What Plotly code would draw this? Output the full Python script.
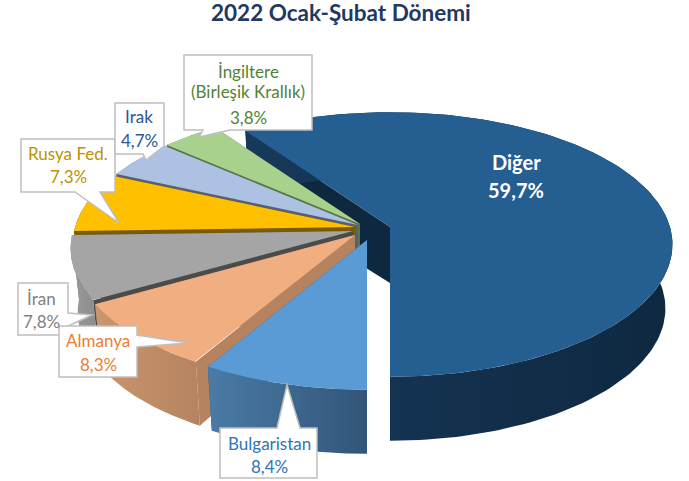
import numpy as np
import plotly.graph_objects as go

# ---- data ----
names = ["Diğer", "Bulgaristan", "Almanya", "İran", "Rusya Fed.", "Irak", "İngiltere (Birleşik Krallık)"]
shares = [59.7, 8.4, 8.3, 7.8, 7.3, 4.7, 3.8]
title_text = "2022 Ocak-Şubat Dönemi"

# ---- style ----
top_colors = ["#255e91", "#5b9bd5", "#f1ae80", "#a5a5a5", "#ffc000", "#adc2e2", "#a9d18e"]
wall_colors = ["#0e2840", "#2f5578", "#b5835f", "#4b4b4b", "#7a5c00", "#566070", "#5c7545"]
side_grad = [("#17395a", "#0e2840"), ("#4a7ba6", "#325578"), ("#c9966f", "#b5835f"),
             ("#9c9c9c", "#8a8a8a"), ("#7a5c00", "#7a5c00"), ("#566070", "#566070"), ("#5c7545", "#5c7545")]
text_colors = ["#ffffff", "#2e75b6", "#ed7d31", "#7f7f7f", "#bf9000", "#2f5597", "#548235"]
apex = [(390, 227), (367, 240), (355, 235), (353, 231), (355, 227), (358, 225), (360, 224)]
A, B, K, DEPTH, SHRINK = 280, 130, 0.132, 64, 0.975
FONT = "Lato"


def project(theta):
    u, v = np.sin(theta), np.cos(theta)
    s = 1 / (1 + K * v)
    return A * u * s, -B * v * s


def poly(xs, ys, color=None, grad=None):
    kw = dict(x=np.round(xs, 2), y=np.round(ys, 2), mode="lines", line=dict(width=0),
              fill="toself", hoverinfo="skip", showlegend=False)
    if grad:
        kw["fillgradient"] = dict(type="horizontal", colorscale=[[0, grad[0]], [1, grad[1]]])
    else:
        kw["fillcolor"] = color
    return go.Scatter(**kw)


fig = go.Figure()

# slices run clockwise from the top; "Diğer" ends at the front of the pie
edges = 180 - shares[0] * 3.6 + np.concatenate([[0], np.cumsum(shares) * 3.6])
order = [0, 6, 5, 4, 3, 2, 1]
for i in order:
    t = np.radians(np.linspace(edges[i], edges[i + 1], 160))
    ox, oy = apex[i]
    dx, dy = project(t)
    tx, ty = ox + dx, oy + dy
    bx, by = ox + SHRINK * dx, oy + DEPTH + dy
    inner = oy + 0.875 * DEPTH
    # radial walls
    for j in (0, -1):
        fig.add_trace(poly([ox, tx[j], bx[j], ox, ox], [oy, ty[j], by[j], inner, oy], wall_colors[i]))
    # outer side
    fig.add_trace(poly(np.r_[tx, bx[::-1], tx[0]], np.r_[ty, by[::-1], ty[0]], grad=side_grad[i]))
    # top face
    fig.add_trace(poly(np.r_[ox, tx, ox], np.r_[oy, ty, oy], top_colors[i]))

# ---- callouts (pixel paths) ----
callouts = [
    [(184, 55), (312, 55), (312, 130), (230, 130), (199, 137), (203, 130), (184, 130)],
    [(21, 139), (115, 139), (115, 192), (100, 192), (119, 223), (75, 192), (21, 192)],
    [(115, 103), (164, 103), (164, 146), (146, 160), (143, 154), (115, 154)],
    [(18, 283), (68, 283), (68, 313), (92, 315), (68, 326), (68, 335), (18, 335)],
    [(59, 326), (137, 326), (137, 335), (188, 343), (137, 347), (137, 377), (59, 377)],
    [(220, 428), (277, 428), (287, 385), (300, 428), (317, 428), (317, 478), (220, 478)],
]
shapes = []
for c in callouts:
    path = "M " + " L ".join(f"{x},{y}" for x, y in c) + " Z"
    shapes.append(dict(type="path", path=path, xref="x", yref="y", fillcolor="white",
                       line=dict(color="#bfbfbf", width=1.5), layer="above"))

pct = [f"{v:.1f}".replace(".", ",") + "%" for v in shares]
label_lines = [
    (0, [names[0], pct[0]], 516, [162, 190]),
    (1, [names[1], pct[1]], 269, [443, 466]),
    (2, [names[2], pct[2]], 98, [340, 364]),
    (3, [names[3], pct[3]], 68 - 27, [298, 321]),
    (4, [names[4], pct[4]], 68, [153, 176]),
    (5, [names[5], pct[5]], 139, [116, 140]),
    (6, ["İngiltere", "(Birleşik Krallık)", pct[6]], 248, [71, 91, 117]),
]
annotations = [dict(x=341, y=12, xref="x", yref="y", text=f"<b>{title_text}</b>", showarrow=False,
                    font=dict(family=FONT, size=22.5, color="#1f3864"))]
for i, lines, x, ys in label_lines:
    for line, y in zip(lines, ys):
        bold = i == 0
        annotations.append(dict(x=x, y=y, xref="x", yref="y", showarrow=False,
                                text=f"<b>{line}</b>" if bold else line,
                                font=dict(family=FONT, size=20 if bold else 17, color=text_colors[i])))

fig.update_layout(
    width=689, height=481, margin=dict(l=0, r=0, t=0, b=0),
    paper_bgcolor="white", plot_bgcolor="white", showlegend=False,
    xaxis=dict(range=[0, 689], visible=False, fixedrange=True),
    yaxis=dict(range=[481, 0], visible=False, fixedrange=True),
    shapes=shapes, annotations=annotations,
)
fig.write_html("out.html", config={"displayModeBar": False},
               post_script="document.body.style.margin='0';document.documentElement.style.overflow='hidden';")
